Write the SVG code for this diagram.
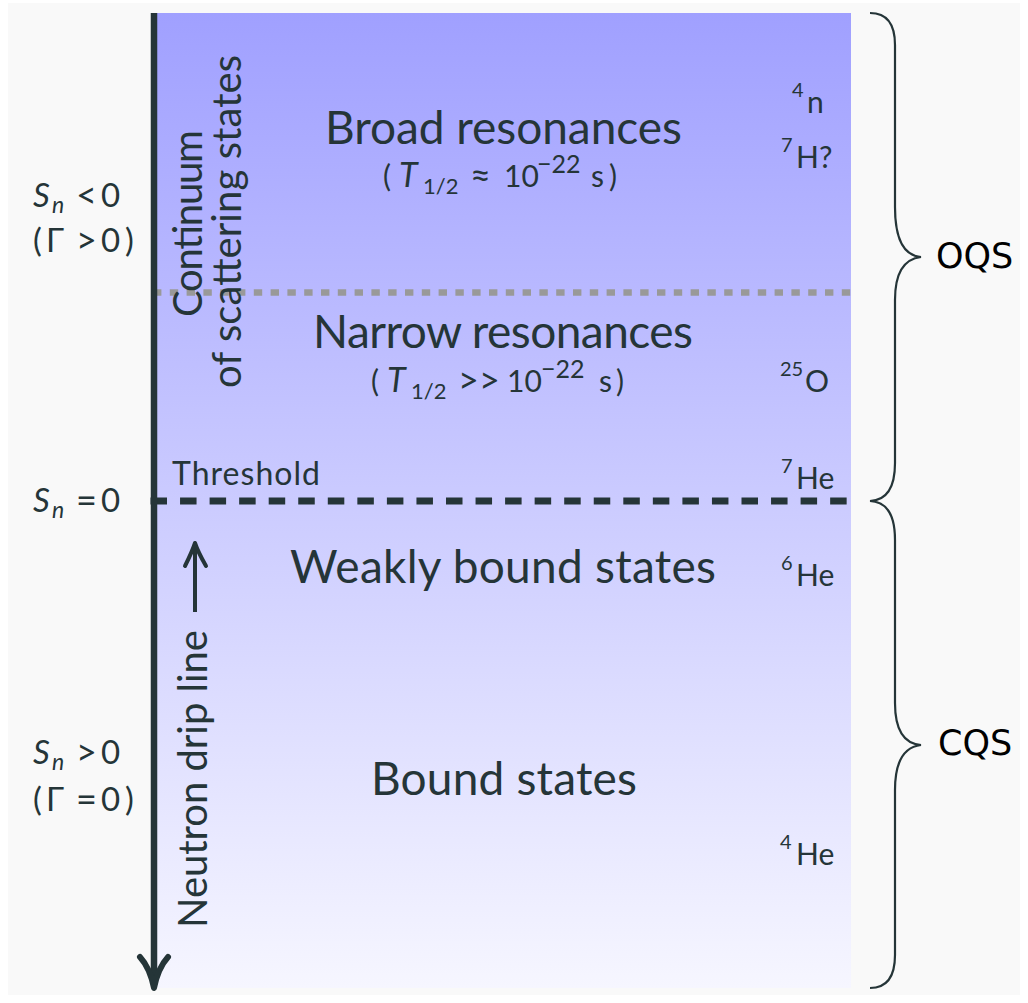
<svg xmlns="http://www.w3.org/2000/svg" width="1028" height="1003" viewBox="0 0 1028 1003">
<defs>
<linearGradient id="bg" x1="0" y1="0" x2="0" y2="1">
<stop offset="0" stop-color="#a0a0ff"/>
<stop offset="1" stop-color="#f6f6ff"/>
</linearGradient>
</defs>
<style>
text{font-family:Lato,"Open Sans","DejaVu Sans",sans-serif;fill:#253538}
.big{font-size:46px}
.f{font-size:30px}
.s{font-size:22px}
.p{font-size:25px}
.o{font-size:36px}
.i{font-style:italic}
.T{font-style:italic;font-size:34px}
.lab{font-size:33px}
.Si{font-style:italic;font-size:33px}
.ni{font-style:italic;font-size:23px}
.rot{font-size:40px}
.nuc{font-size:30px}
.sup{font-size:20px}
.br{font-family:"DejaVu Sans",sans-serif;font-size:35px;fill:#000}
.line{stroke:#253538;fill:none}
</style>
<rect x="8" y="3" width="1012" height="992" fill="#f9f9f9"/>
<rect id="region" x="153" y="13" width="698" height="975" fill="url(#bg)"/>
<g id="connectors">
<line x1="153" y1="292.5" x2="851" y2="292.5" stroke="#999" stroke-width="6.5" stroke-dasharray="8.4,8.4"/>
<line x1="150.5" y1="501" x2="851" y2="501" stroke="#253538" stroke-width="7" stroke-dasharray="16.5,13.05"/>
<line x1="154" y1="13" x2="154" y2="980" stroke="#253538" stroke-width="6.5"/>
<path d="M140,957 Q150,968 154,988 Q158,968 168,957" stroke="#253538" stroke-width="6" fill="none" stroke-linejoin="round" stroke-linecap="round"/>
<path class="line" stroke-width="2.2" d="M870,13 Q895,13 895,45 L895,207 Q895,255 921,257 Q895,260 895,300 L895,463 Q895,500 870,501 Q895,502 895,540 L895,703 Q895,743 921,745 Q895,748 895,790 L895,955 Q895,988 870,988"/>
</g>
<g id="broad">
<text class="big" x="325" y="144" textLength="357" lengthAdjust="spacing">Broad resonances</text>
<text class="f"><tspan x="383" y="187">(</tspan><tspan class="T" x="399" y="187">T</tspan><tspan class="s" x="423" y="194">1/2</tspan><tspan class="o" x="470" y="188">≈</tspan><tspan x="504" y="187">10</tspan><tspan class="p" x="537" y="173">−22</tspan><tspan x="591" y="187">s</tspan><tspan x="609" y="187">)</tspan></text>
</g>
<g id="narrow">
<text class="big" x="313" y="348" textLength="380" lengthAdjust="spacing">Narrow resonances</text>
<text class="f"><tspan x="371" y="392">(</tspan><tspan class="T" x="387" y="392">T</tspan><tspan class="s" x="411" y="399">1/2</tspan><tspan class="o" x="458" y="393">&gt;&gt;</tspan><tspan x="507" y="392">10</tspan><tspan class="p" x="541" y="378">−22</tspan><tspan x="599" y="392">s</tspan><tspan x="616" y="392">)</tspan></text>
</g>
<g id="threshold"><text x="172" y="485" font-size="32" textLength="148" lengthAdjust="spacing">Threshold</text></g>
<g id="weak"><text class="big" x="290" y="583" textLength="426" lengthAdjust="spacing">Weakly bound states</text></g>
<g id="bound"><text class="big" x="371" y="795" textLength="266" lengthAdjust="spacing">Bound states</text></g>
<g id="continuum">
<text class="rot" transform="translate(202,317) rotate(-90)" textLength="187" lengthAdjust="spacing">Continuum</text>
<text class="rot" transform="translate(241,388) rotate(-90)" textLength="333" lengthAdjust="spacing">of scattering states</text>
</g>
<g id="dripline">
<text class="rot" transform="translate(207,928) rotate(-90)" textLength="298" lengthAdjust="spacing">Neutron drip line</text>
<line x1="195" y1="612" x2="195" y2="547" stroke="#253538" stroke-width="4"/>
<path d="M185,566 Q192,552 195,543 Q198,552 206,566" stroke="#253538" stroke-width="4" fill="none" stroke-linecap="round" stroke-linejoin="round"/>
</g>
<g id="left-labels">
<text class="lab"><tspan class="Si" x="33" y="207">S</tspan><tspan class="ni" x="52" y="213">n</tspan><tspan class="o" x="76" y="208">&lt;</tspan><tspan x="101" y="207">0</tspan></text>
<text class="lab"><tspan x="33" y="252">(</tspan><tspan x="46" y="252">Γ</tspan><tspan class="o" x="76" y="253">&gt;</tspan><tspan x="101" y="252">0</tspan><tspan x="125" y="252">)</tspan></text>
<text class="lab"><tspan class="Si" x="33" y="512">S</tspan><tspan class="ni" x="52" y="518">n</tspan><tspan class="o" x="76" y="513">=</tspan><tspan x="101" y="512">0</tspan></text>
<text class="lab"><tspan class="Si" x="33" y="764">S</tspan><tspan class="ni" x="52" y="770">n</tspan><tspan class="o" x="76" y="765">&gt;</tspan><tspan x="101" y="764">0</tspan></text>
<text class="lab"><tspan x="33" y="811">(</tspan><tspan x="46" y="811">Γ</tspan><tspan class="o" x="76" y="812">=</tspan><tspan x="101" y="811">0</tspan><tspan x="125" y="811">)</tspan></text>
</g>
<g id="nuclei">
<text class="nuc"><tspan class="sup" x="792" y="97">4</tspan><tspan x="807" y="113">n</tspan></text>
<text class="nuc"><tspan class="sup" x="781" y="152">7</tspan><tspan x="796" y="168">H?</tspan></text>
<text class="nuc"><tspan class="sup" x="780" y="376">25</tspan><tspan x="805" y="392">O</tspan></text>
<text class="nuc"><tspan class="sup" x="781" y="473">7</tspan><tspan x="796" y="489">He</tspan></text>
<text class="nuc"><tspan class="sup" x="781" y="570">6</tspan><tspan x="796" y="586">He</tspan></text>
<text class="nuc"><tspan class="sup" x="780" y="849">4</tspan><tspan x="796" y="865">He</tspan></text>
</g>
<g id="braces">
<text class="br" x="936" y="268">OQS</text>
<text class="br" x="938" y="755">CQS</text>
</g>
</svg>
